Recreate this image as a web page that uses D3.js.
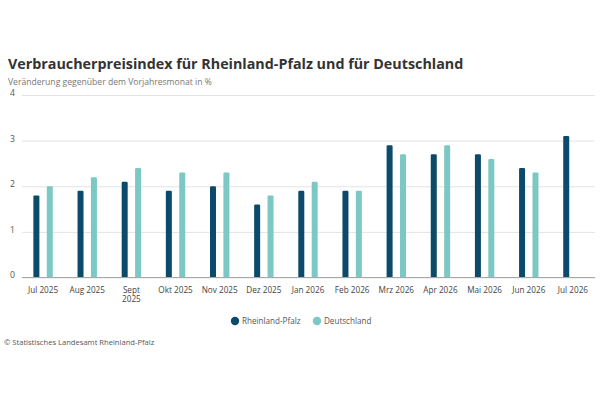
<!DOCTYPE html>
<html><head><meta charset="utf-8">
<script src="https://cdn.jsdelivr.net/npm/d3@7"></script>
<style>body{margin:0;background:#fff}svg{display:block;font-family:"Open Sans",sans-serif}</style>
</head><body><svg id="c" width="600" height="400"></svg>
<script>
const categories = ["Jul 2025","Aug 2025","Sept 2025","Okt 2025","Nov 2025","Dez 2025","Jan 2026","Feb 2026","Mrz 2026","Apr 2026","Mai 2026","Jun 2026","Jul 2026"];
const seriesNames = ["Rheinland-Pfalz","Deutschland"];
const rlp = [1.8,1.9,2.1,1.9,2.0,1.6,1.9,1.9,2.9,2.7,2.7,2.4,3.1];
const de  = [2.0,2.2,2.4,2.3,2.3,1.8,2.1,1.9,2.7,2.9,2.6,2.3,null];
const yTicks = [0,1,2,3,4];
const colors = ["#0b4a6a","#7cc8c4"];

const svg = d3.select("#c");
const x0 = d3.scaleBand().domain(categories).range([21,595]);
const bw = x0.bandwidth();
const x1 = d3.scaleBand().domain(seriesNames).range([bw/2-9.7, bw/2+9.7]).paddingInner(0.552);
const y = d3.scaleLinear().domain([0,4]).range([277.5,95]);

svg.append("text").attr("x",8).attr("y",68.5).attr("font-size",14.3).attr("font-weight",700).attr("fill","#333")
  .text("Verbraucherpreisindex für Rheinland-Pfalz und für Deutschland");
svg.append("text").attr("x",8).attr("y",85).attr("font-size",8.6).attr("fill","#777")
  .text("Veränderung gegenüber dem Vorjahresmonat in %");

// grid
const grid = svg.append("g").attr("transform","translate(22,0)")
  .call(d3.axisLeft(y).tickValues(yTicks).tickSize(-(595-22)).tickFormat(d3.format("d")));
grid.select(".domain").remove();
grid.selectAll(".tick line").attr("stroke","#e3e3e3");
grid.selectAll(".tick text").attr("x",-12).attr("dy","0.05em").attr("text-anchor","start")
  .attr("font-size",8.6).attr("fill","#555").attr("font-family","Open Sans");

const data = categories.map((c,i)=>({c, vals:[{s:seriesNames[0],v:rlp[i]},{s:seriesNames[1],v:de[i]}]}));
const groups = svg.append("g").selectAll("g").data(data).join("g")
  .attr("transform",d=>`translate(${x0(d.c)},0)`);
groups.selectAll("path").data(d=>d.vals.filter(v=>v.v!=null)).join("path")
  .attr("fill",d=>colors[seriesNames.indexOf(d.s)])
  .attr("d",d=>{
    const xa = x1(d.s), w = x1.bandwidth(), yt = y(d.v), yb = y(0), r = 1.2;
    return `M${xa},${yb}V${yt+r}Q${xa},${yt} ${xa+r},${yt}H${xa+w-r}Q${xa+w},${yt} ${xa+w},${yt+r}V${yb}Z`;
  });

// x axis
const xa = svg.append("g").attr("transform","translate(0,277.5)").call(d3.axisBottom(x0).tickSize(0).tickPadding(10));
xa.select(".domain").attr("stroke","#a8a8a8").attr("stroke-width",1.2).attr("d","M22,0H595");
xa.selectAll(".tick text").attr("font-size",8.2).attr("fill","#444").attr("font-family","Open Sans")
  .each(function(d){
    if (d.length>8){
      const t=d3.select(this), parts=d.split(" ");
      t.text(parts[0]);
      d3.select(this.parentNode).append("text")
        .attr("y",+t.attr("y")+9).attr("dy","0.71em")
        .attr("font-size",8.2).attr("fill","#444").attr("font-family","Open Sans")
        .text(parts[1]);
    }
  });

// legend
const leg = svg.append("g").attr("transform","translate(0,321)");
const lx = [235,317];
seriesNames.forEach((s,i)=>{
  leg.append("circle").attr("cx",lx[i]).attr("cy",0).attr("r",4.2).attr("fill",colors[i]);
  leg.append("text").attr("x",lx[i]+7).attr("y",3).attr("font-size",8.1).attr("fill","#555").text(s);
});

svg.append("text").attr("x",4).attr("y",345).attr("font-size",7.6).attr("fill","#555")
  .text("© Statistisches Landesamt Rheinland-Pfalz");
</script></body></html>
